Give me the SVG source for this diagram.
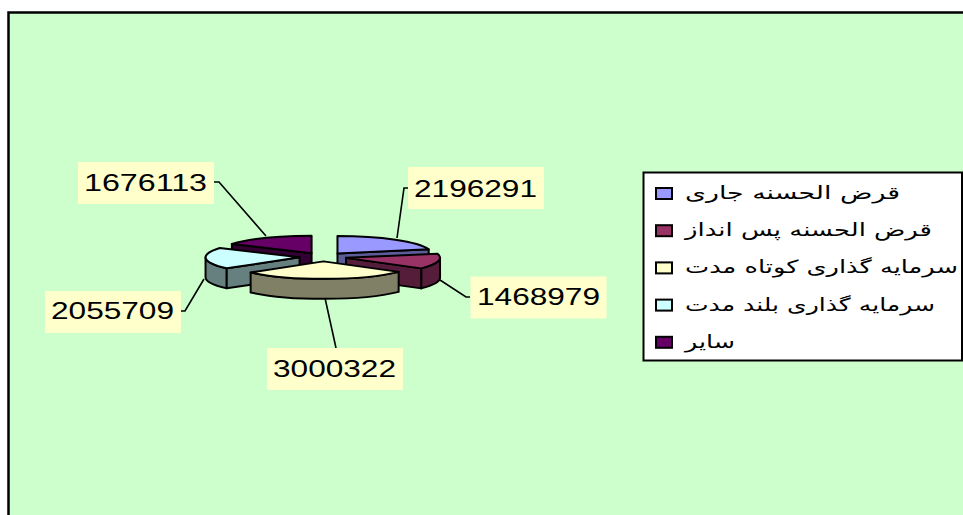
<svg xmlns="http://www.w3.org/2000/svg" width="963" height="515" viewBox="0 0 963 515">
<style>
.edge{stroke:#000;stroke-width:2;stroke-linejoin:round}
.lbl rect{fill:#FFFFCC}
.lbl text{font-family:"Liberation Sans",Arial,sans-serif;font-size:24px;fill:#000}
.conn{fill:none;stroke:#000;stroke-width:1.6}
.leg text{font-family:"DejaVu Sans","Noto Sans",sans-serif;font-size:18px;fill:#000}
.sw{stroke:#000;stroke-width:2}
</style>
<rect x="0" y="0" width="963" height="515" fill="#FFFFFF"/>
<g id="frame">
<rect x="8.5" y="12.5" width="970" height="520" fill="#CCFFCC" stroke="#000" stroke-width="2.5"/>
</g>
<g id="pie">
<g id="slice-sayer">
<polygon class="edge" points="311.6,253.17 231.86,243.91 231.86,263.91 311.6,273.17" fill="#330033"/>
<path class="edge" d="M311.6,253.17 L231.86,243.91 A94,17.5 0 0 1 311.6,235.67 Z" fill="#660066"/>
</g>
<g id="slice-jari">
<polygon class="edge" points="337.47,253.55 428.7,249.33 428.7,269.33 337.47,273.55" fill="#5C5C99"/>
<path class="edge" d="M337.47,253.55 L337.47,236.05 A94,17.5 0 0 1 428.7,249.33 Z" fill="#9999FF"/>
</g>
<g id="slice-boland">
<path class="edge" d="M226.72,268.34 A94,17.5 0 0 1 205.55,257.28 L205.55,277.28 A94,17.5 0 0 0 226.72,288.34 Z" fill="#668080"/>
<polygon class="edge" points="299.55,257.28 226.72,268.34 226.72,288.34 299.55,277.28" fill="#668080"/>
<path class="edge" d="M299.55,257.28 L226.72,268.34 A94,17.5 0 0 1 219.81,248.02 Z" fill="#CCFFFF"/>
</g>
<g id="slice-pasandaz">
<path class="edge" d="M440.03,257.87 A94,17.5 0 0 1 421.2,268.38 L421.2,288.38 A94,17.5 0 0 0 440.03,277.87 Z" fill="#561D3A"/>
<polygon class="edge" points="346.03,257.87 421.2,268.38 421.2,288.38 346.03,277.87" fill="#561D3A"/>
<path class="edge" d="M346.03,257.87 L437.26,253.65 A94,17.5 0 0 1 421.2,268.38 Z" fill="#993366"/>
</g>
<g id="slice-kootah">
<path class="edge" d="M398.64,271.88 A94,17.5 0 0 1 250.64,272.43 L250.64,292.43 A94,17.5 0 0 0 398.64,291.88 Z" fill="#808066"/>
<path class="edge" d="M323.47,261.37 L398.64,271.88 A94,17.5 0 0 1 250.64,272.43 Z" fill="#FFFFCC"/>
</g>
</g>
<g id="connectors">
<polyline class="conn" points="214,182 219,182 266,236"/>
<polyline class="conn" points="408,188 404,188 397,238"/>
<polyline class="conn" points="440,280 466,297 470,297"/>
<polyline class="conn" points="204,279 185,311 181,311"/>
<polyline class="conn" points="325,298 336,348"/>
</g>
<g id="label-1676113" class="lbl"><rect x="78" y="162" width="136" height="42"/><text x="84" y="191" textLength="123" lengthAdjust="spacingAndGlyphs">1676113</text></g>
<g id="label-2196291" class="lbl"><rect x="408" y="167" width="136" height="42"/><text x="414" y="196.5" textLength="123" lengthAdjust="spacingAndGlyphs">2196291</text></g>
<g id="label-1468979" class="lbl"><rect x="470.5" y="276.5" width="136" height="42"/><text x="477" y="305" textLength="123" lengthAdjust="spacingAndGlyphs">1468979</text></g>
<g id="label-2055709" class="lbl"><rect x="45" y="291" width="136" height="42"/><text x="51" y="319" textLength="123" lengthAdjust="spacingAndGlyphs">2055709</text></g>
<g id="label-3000322" class="lbl"><rect x="267" y="348" width="136" height="42"/><text x="273" y="376.5" textLength="123" lengthAdjust="spacingAndGlyphs">3000322</text></g>
<g id="legend" class="leg">
<rect x="643.5" y="172.5" width="318.5" height="188" fill="#FFFFFF" stroke="#000" stroke-width="2"/>
<rect class="sw" x="656" y="188" width="16" height="11" fill="#9999FF"/>
<rect class="sw" x="656" y="225.2" width="16" height="11" fill="#993366"/>
<rect class="sw" x="656" y="262.4" width="16" height="11" fill="#FFFFCC"/>
<rect class="sw" x="656" y="299.6" width="16" height="11" fill="#CCFFFF"/>
<rect class="sw" x="656" y="336.8" width="16" height="11" fill="#660066"/>
<text x="685" y="199" textLength="215" lengthAdjust="spacingAndGlyphs">قرض الحسنه جاری</text>
<text x="685" y="236.2" textLength="247" lengthAdjust="spacingAndGlyphs">قرض الحسنه پس انداز</text>
<text x="685" y="273.4" textLength="273" lengthAdjust="spacingAndGlyphs">سرمایه گذاری کوتاه مدت</text>
<text x="685" y="310.5" textLength="250" lengthAdjust="spacingAndGlyphs">سرمایه گذاری بلند مدت</text>
<text x="685" y="347.7" textLength="50" lengthAdjust="spacingAndGlyphs">سایر</text>
</g>
</svg>
